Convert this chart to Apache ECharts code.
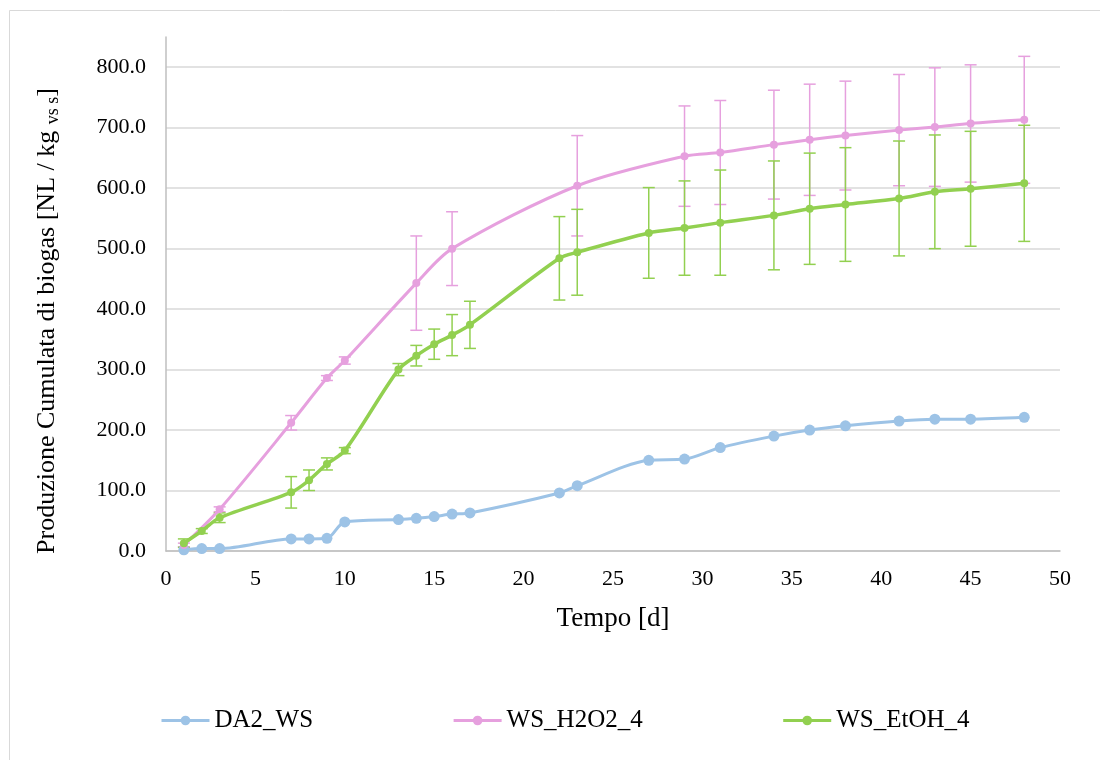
<!DOCTYPE html>
<html>
<head>
<meta charset="utf-8">
<script src="https://cdn.jsdelivr.net/npm/echarts@6/dist/echarts.min.js"></script>
<style>
html,body{margin:0;padding:0;background:#fff;}
#chart{width:1100px;height:760px;}
</style>
</head>
<body>
<div id="chart"></div>
<script>
// ---- data ----
const xTicks = [0, 5, 10, 15, 20, 25, 30, 35, 40, 45, 50];
const yTicks = [0, 100, 200, 300, 400, 500, 600, 700, 800];

const blueName = 'DA2_WS';
const blueX = [1,2,3,7,8,9,10,13,14,15,16,17,22,23,27,29,31,34,36,38,41,43,45,48];
const blueY = [2,4,4,20,20,21,48,52,54,57,61,63,96,108,150,152,171,190,200,207,215,218,218,221];

const pinkName = 'WS_H2O2_4';
const pinkX = [1,3,7,9,10,14,16,23,29,31,34,36,38,41,43,45,48];
const pinkY = [10,69,212,286,315,443,500,604,653,659,672,680,687,696,701,707,713];
const pinkErr = [3,4,12,4,6,78,61,83,83,86,90,92,90,92,98,97,105];

const greenName = 'WS_EtOH_4';
const greenX = [1,2,3,7,8,9,10,13,14,15,16,17,22,23,27,29,31,34,36,38,41,43,45,48];
const greenY = [13,33,55,97,117,144,166,300,323,342,357,374,484,494,526,534,543,555,566,573,583,594,599,608];
const greenErr = [7,4,8,26,17,10,5,10,17,25,34,39,69,71,75,78,87,90,92,94,95,94,95,96];

// ---- build ----
const C_BLUE = '#9DC3E6', C_PINK = '#E6A0DE', C_GREEN = '#92D050';
const FONT = '"Liberation Serif", "Times New Roman", serif';

function pts(xs, ys){ return xs.map((x,i)=>[x, ys[i]]); }
function errs(xs, ys, es){ return xs.map((x,i)=>[x, ys[i]-es[i], ys[i]+es[i]]); }

function errRender(color){
  return function(params, api){
    const x = api.value(0), lo = api.value(1), hi = api.value(2);
    const a = api.coord([x, hi]), b = api.coord([x, lo]);
    const w = 6;
    const st = {stroke: color, lineWidth: 1.5};
    return {type:'group', children:[
      {type:'line', shape:{x1:a[0], y1:a[1], x2:b[0], y2:b[1]}, style:st},
      {type:'line', shape:{x1:a[0]-w, y1:a[1], x2:a[0]+w, y2:a[1]}, style:st},
      {type:'line', shape:{x1:b[0]-w, y1:b[1], x2:b[0]+w, y2:b[1]}, style:st}
    ]};
  };
}

function lineSeries(name, data, color, symSize, lw, z){
  return {
    name, type:'line', data, smooth:0.3, symbol:'circle', symbolSize:symSize,
    lineStyle:{color, width:lw}, itemStyle:{color}, z, animation:false
  };
}
function errSeries(data, color, z){
  return {
    type:'custom', data, renderItem: errRender(color), z, animation:false,
    encode:{x:0, y:[1,2]}, silent:true
  };
}

const chart = echarts.init(document.getElementById('chart'), null, {renderer:'canvas'});
chart.setOption({
  backgroundColor:'#fff',
  animation:false,
  textStyle:{fontFamily:FONT},
  graphic:[{type:'rect', shape:{x:9.5, y:10.5, width:1200, height:900},
    style:{fill:'none', stroke:'#D9D9D9', lineWidth:1}, silent:true}],
  grid:{left:166, right:40, top:37, bottom:209},
  legend:{
    data:[blueName, pinkName, greenName],
    left:155, top:703, itemWidth:48, itemHeight:12, itemGap:139,
    lineStyle:{width:3},
    textStyle:{fontFamily:FONT, fontSize:25, color:'#000'}
  },
  xAxis:{
    type:'value', min:xTicks[0], max:xTicks[xTicks.length-1], interval:5,
    name:'Tempo [d]', nameLocation:'middle', nameGap:54,
    nameTextStyle:{fontFamily:FONT, fontSize:27, color:'#000'},
    axisLine:{lineStyle:{color:'#BFBFBF', width:1.5}},
    axisTick:{show:false},
    axisLabel:{fontFamily:FONT, fontSize:22, color:'#000', margin:17},
    splitLine:{show:false}
  },
  yAxis:{
    type:'value', min:0, max:850, interval:100,
    name:'{a|Produzione Cumulata di biogas [NL / kg }{s|vs s}{a|]}',
    nameLocation:'middle', nameGap:104,
    nameTextStyle:{fontFamily:FONT, fontSize:26, color:'#000', padding:[0,54,0,0],
      rich:{a:{fontFamily:FONT, fontSize:26, color:'#000'},
            s:{fontFamily:FONT, fontSize:18, color:'#000', padding:[12,0,0,0]}}},
    axisLine:{show:true, lineStyle:{color:'#BFBFBF', width:1.5}},
    axisTick:{show:false},
    axisLabel:{fontFamily:FONT, fontSize:22, color:'#000', margin:20,
      showMaxLabel:false,
      formatter:v => yTicks.indexOf(v) >= 0 ? v.toFixed(1) : ''},
    splitLine:{show:true, showMaxLine:false, lineStyle:{color:'#D9D9D9', width:1.5}}
  },
  series:[
    errSeries(errs(pinkX, pinkY, pinkErr), C_PINK, 2),
    errSeries(errs(greenX, greenY, greenErr), C_GREEN, 2),
    lineSeries(blueName, pts(blueX, blueY), C_BLUE, 11, 3, 3),
    lineSeries(pinkName, pts(pinkX, pinkY), C_PINK, 8, 3, 4),
    lineSeries(greenName, pts(greenX, greenY), C_GREEN, 8, 3.5, 5)
  ]
});
</script>
</body>
</html>
